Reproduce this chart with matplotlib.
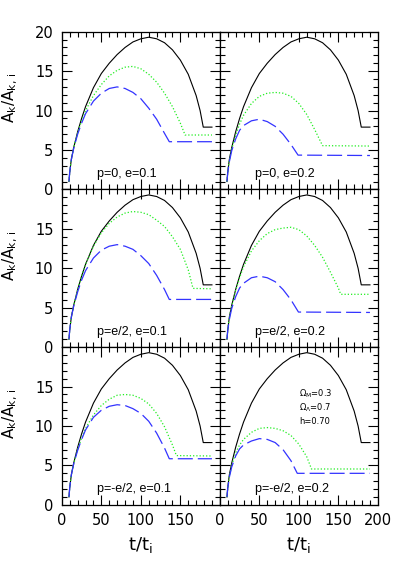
import matplotlib
matplotlib.use("Agg")
import matplotlib.pyplot as plt
from matplotlib.ticker import MultipleLocator

plt.rcParams['font.family'] = ['DejaVu Sans']
plt.rcParams['mathtext.fontset'] = 'dejavusans'

# black solid curve (same in every panel)
t_black = [9, 10, 12, 15, 20, 25, 30, 40, 50, 60, 70, 80, 90, 100, 110, 120, 130, 140, 150, 160, 170, 175, 179, 190]
a_black = [1.0, 2.2, 3.8, 5.3, 7.3, 9.0, 10.5, 12.9, 14.7, 16.0, 17.1, 18.0, 18.7, 19.1, 19.3, 19.1, 18.6, 17.7, 16.4, 14.6, 11.9, 10.0, 7.9, 7.9]

# p=0, e=0.1
g00_t = [9, 10, 12, 15, 20, 25, 30, 40, 50, 60, 70, 80, 90, 100, 110, 120, 130, 140, 150, 156, 190]
g00_a = [1.0, 2.2, 3.8, 5.3, 7.2, 8.7, 10.0, 11.9, 13.3, 14.4, 15.1, 15.5, 15.6, 15.3, 14.6, 13.6, 12.2, 10.5, 8.4, 6.9, 6.9]
b00_t = [9, 10, 12, 15, 20, 25, 30, 40, 50, 60, 70, 80, 90, 100, 110, 120, 130, 136, 190]
b00_a = [1.0, 2.2, 3.8, 5.2, 7.0, 8.4, 9.6, 11.2, 12.2, 12.8, 13.0, 12.8, 12.3, 11.5, 10.3, 8.9, 7.1, 6.05, 6.05]

# p=0, e=0.2
g01_t = [9, 10, 12, 15, 20, 25, 30, 40, 50, 60, 70, 80, 90, 100, 110, 120, 130, 190]
g01_a = [1.0, 2.2, 3.7, 5.1, 6.9, 8.3, 9.4, 10.9, 11.8, 12.2, 12.3, 12.2, 11.8, 10.9, 9.5, 7.6, 5.55, 5.5]
b01_t = [9, 10, 12, 15, 20, 25, 30, 40, 50, 60, 70, 80, 90, 99, 190]
b01_a = [1.0, 2.1, 3.5, 4.9, 6.4, 7.5, 8.1, 8.7, 8.9, 8.6, 8.0, 7.0, 5.7, 4.35, 4.3]

# p=e/2, e=0.1
g10_t = [9, 10, 12, 15, 20, 25, 30, 40, 50, 60, 70, 80, 90, 100, 110, 120, 130, 140, 150, 160, 166, 190]
g10_a = [1.0, 2.2, 3.8, 5.3, 7.3, 9.0, 10.5, 12.8, 14.5, 15.7, 16.5, 17.0, 17.2, 17.1, 16.8, 16.1, 15.3, 14.0, 12.4, 9.8, 7.45, 7.4]
b10_t = [9, 10, 12, 15, 20, 25, 30, 40, 50, 60, 70, 80, 90, 100, 110, 120, 130, 136, 190]
b10_a = [1.0, 2.2, 3.8, 5.2, 7.0, 8.5, 9.7, 11.3, 12.3, 12.8, 13.0, 12.8, 12.4, 11.6, 10.6, 9.1, 7.3, 6.05, 6.05]

# p=e/2, e=0.2
g11_t = [9, 10, 12, 15, 20, 25, 30, 40, 50, 60, 70, 80, 90, 100, 110, 120, 130, 140, 150, 153, 190]
g11_a = [1.0, 2.2, 3.8, 5.2, 7.2, 8.8, 10.2, 12.2, 13.5, 14.4, 14.9, 15.1, 15.2, 14.9, 14.1, 12.9, 11.4, 9.5, 7.5, 6.7, 6.7]
b11_t = [9, 10, 12, 15, 20, 25, 30, 40, 50, 60, 70, 80, 90, 99.5, 190]
b11_a = [1.0, 2.1, 3.5, 4.9, 6.4, 7.5, 8.1, 8.8, 9.0, 8.8, 8.3, 7.3, 6.0, 4.45, 4.4]

# p=-e/2, e=0.1
g20_t = [9, 10, 12, 15, 20, 25, 30, 40, 50, 60, 70, 80, 90, 100, 110, 120, 130, 140, 145, 190]
g20_a = [1.0, 2.2, 3.8, 5.2, 7.0, 8.5, 9.7, 11.4, 12.6, 13.4, 13.9, 14.0, 13.9, 13.5, 12.8, 11.6, 9.9, 7.6, 6.25, 6.2]
b20_t = [9, 10, 12, 15, 20, 25, 30, 40, 50, 60, 70, 80, 90, 100, 110, 120, 130, 136, 190]
b20_a = [1.0, 2.2, 3.8, 5.2, 6.9, 8.3, 9.5, 11.1, 12.0, 12.5, 12.7, 12.6, 12.2, 11.6, 10.6, 9.1, 7.2, 5.85, 5.85]

# p=-e/2, e=0.2
g21_t = [9, 10, 12, 15, 20, 25, 30, 40, 50, 60, 70, 80, 90, 100, 110, 116, 190]
g21_a = [1.0, 2.1, 3.6, 5.0, 6.6, 7.6, 8.3, 9.2, 9.7, 9.8, 9.7, 9.4, 8.8, 7.7, 6.1, 4.55, 4.55]
b21_t = [9, 10, 12, 15, 20, 25, 30, 40, 50, 60, 70, 80, 90, 98, 190]
b21_a = [1.0, 2.1, 3.5, 4.8, 6.2, 7.1, 7.6, 8.1, 8.4, 8.3, 7.9, 7.0, 5.6, 4.0, 4.0]

panel_labels = [["p=0, e=0.1", "p=0, e=0.2"],
                ["p=e/2, e=0.1", "p=e/2, e=0.2"],
                ["p=-e/2, e=0.1", "p=-e/2, e=0.2"]]
green = [[(g00_t, g00_a), (g01_t, g01_a)],
         [(g10_t, g10_a), (g11_t, g11_a)],
         [(g20_t, g20_a), (g21_t, g21_a)]]
blue = [[(b00_t, b00_a), (b01_t, b01_a)],
        [(b10_t, b10_a), (b11_t, b11_a)],
        [(b20_t, b20_a), (b21_t, b21_a)]]

fig, axes = plt.subplots(3, 2, figsize=(3.99, 5.66), dpi=100)
fig.subplots_adjust(left=0.155, right=0.947, top=0.944, bottom=0.108, hspace=0, wspace=0)

for i in range(3):
    for j in range(2):
        ax = axes[i, j]
        ax.plot(t_black, a_black, color='black', lw=0.8)
        ax.plot(*green[i][j], color='#22ee22', lw=0.9, linestyle=(0, (1, 1.6)))
        ax.plot(*blue[i][j], color='#3333ff', lw=0.9, dashes=(12, 4))
        ax.set_xlim(0, 200)
        ax.set_ylim(0, 20)
        ax.xaxis.set_minor_locator(MultipleLocator(10))
        ax.yaxis.set_minor_locator(MultipleLocator(1))
        ax.set_xticks([0, 50, 100, 150, 200])
        ax.set_yticks([0, 5, 10, 15, 20])
        ax.tick_params(which='both', direction='in', top=True, right=True, width=0.8, labelsize=10.5, pad=6)
        ax.tick_params(which='major', length=7)
        ax.tick_params(which='minor', length=3.5)
        for s in ax.spines.values():
            s.set_linewidth(0.9)
        ax.text(0.22, 0.08, panel_labels[i][j], transform=ax.transAxes, fontsize=9,
                family=['Liberation Sans', 'DejaVu Sans'])

        if i == 2:
            if j == 0:
                ax.set_xticklabels(['0', '50', '100', '150', ''])
            else:
                ax.set_xticklabels(['0', '50', '100', '150', '200'])
            ax.set_xlabel(r'$\mathrm{t/t_i}$', fontsize=13, labelpad=5)
        else:
            ax.set_xticklabels([])
        if j == 0:
            if i == 0:
                ax.set_yticklabels(['0', '5', '10', '15', '20'])
            else:
                ax.set_yticklabels(['0', '5', '10', '15', ''])
            ax.set_ylabel(r'$\mathrm{A_k/A_{k,\,i}}$', fontsize=11)
            ax.yaxis.set_label_coords(-0.265, 0.58)
        else:
            ax.set_yticklabels([])

ax = axes[2, 1]
ax.text(0.5, 0.69, r'$\Omega_{\rm M}$=0.3', transform=ax.transAxes, fontsize=6)
ax.text(0.5, 0.60, r'$\Omega_\Lambda$=0.7', transform=ax.transAxes, fontsize=6)
ax.text(0.5, 0.51, 'h=0.70', transform=ax.transAxes, fontsize=6)

plt.savefig('out.png', dpi=100)
